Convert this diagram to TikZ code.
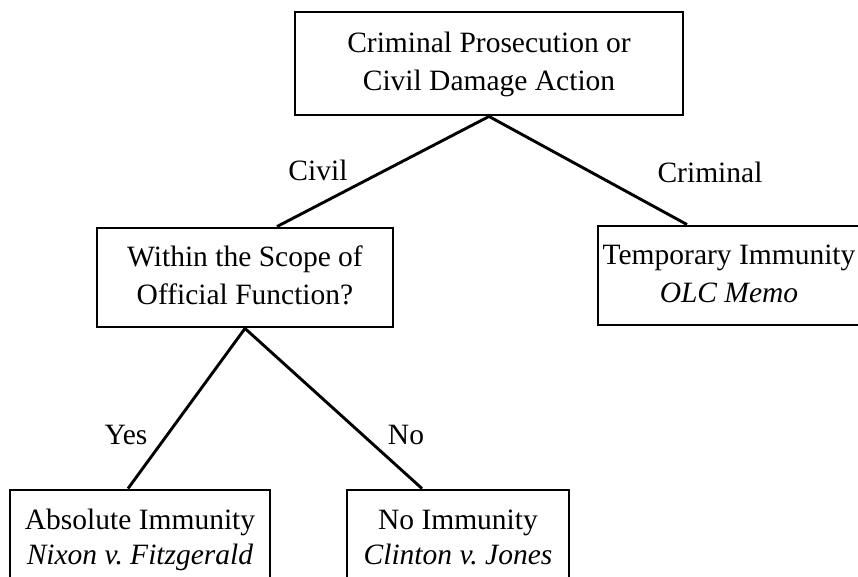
\documentclass[tikz,border=0pt]{standalone}
\usepackage{fontspec}
\setmainfont{Liberation Serif}
% two centred lines set on struts, so every box centres its text the same way
\newcommand{\twolines}[2]{\begin{tabular}{@{}c@{}}#1\\#2\end{tabular}}
\begin{document}
\begin{tikzpicture}[x=1pt, y=-1pt,
  box/.style={draw, line width=2.9pt, inner sep=0pt,
    font=\fontsize{29.5pt}{38pt}\selectfont\frenchspacing},
  lowbox/.style={box, font=\fontsize{29.5pt}{35pt}\selectfont\frenchspacing},
  branch/.style={line width=2.9pt},
  tag/.style={font=\fontsize{29.5pt}{36pt}\selectfont, inner sep=0pt}]
  \useasboundingbox (0,0) rectangle (858,577);
  \clip (0,0) rectangle (858,577);

  % decision tree boxes
  \node[box, minimum width=388pt, minimum height=103pt] (root) at (489,63.5)
    {\twolines{Criminal Prosecution or}{Civil Damage Action}};
  \node[box, minimum width=296pt, minimum height=99pt] (scope) at (245,277.5)
    {\twolines{Within the Scope of}{Official Function?}};
  \node[box, minimum width=262pt, minimum height=99pt] (temp) at (729,275.5)
    {\twolines{Temporary Immunity}{\textit{OLC Memo}}};
  \node[lowbox, minimum width=260pt, minimum height=99pt] (abs) at (140,539.5)
    {\twolines{Absolute Immunity}{\textit{Nixon v. Fitzgerald}}};
  \node[lowbox, minimum width=222pt, minimum height=99pt] (none) at (458,539.5)
    {\twolines{No Immunity}{\textit{Clinton v. Jones}}};

  % branches
  \draw[branch] (root.south) -- ([xshift=32pt]scope.north);
  \draw[branch] (root.south) -- ([xshift=-42pt]temp.north);
  \draw[branch] (scope.south) -- ([xshift=-12pt]abs.north);
  \draw[branch] (scope.south) -- ([xshift=-36pt]none.north);

  % branch labels
  \node[tag] (civil) at (318,170) {Civil};
  \node[tag] (crim) at (710,172) {Criminal};
  \node[tag] (yes) at (126,435) {Yes};
  \node[tag] (no) at (406,435) {No};
\end{tikzpicture}
\end{document}
